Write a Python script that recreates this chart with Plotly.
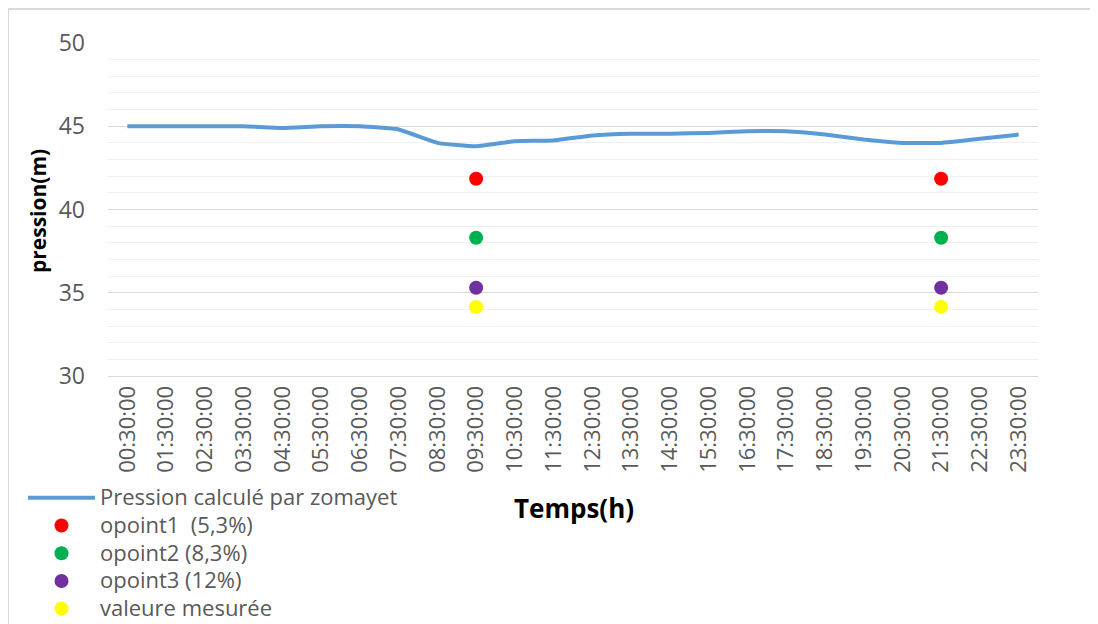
import plotly.graph_objects as go

times = ["00:30:00", "01:30:00", "02:30:00", "03:30:00", "04:30:00", "05:30:00",
         "06:30:00", "07:30:00", "08:30:00", "09:30:00", "10:30:00", "11:30:00",
         "12:30:00", "13:30:00", "14:30:00", "15:30:00", "16:30:00", "17:30:00",
         "18:30:00", "19:30:00", "20:30:00", "21:30:00", "22:30:00", "23:30:00"]
pression_calc = [45.0, 45.0, 45.0, 45.0, 44.9, 45.0, 45.0, 44.8, 44.0, 43.8, 44.1, 44.15,
                 44.45, 44.55, 44.55, 44.6, 44.7, 44.7, 44.5, 44.2, 44.0, 44.0, 44.25, 44.5]
point_times = ["09:30:00", "21:30:00"]
opoint1 = [41.85, 41.85]
opoint2 = [38.3, 38.3]
opoint3 = [35.3, 35.3]
mesure = [34.15, 34.15]

OFF = 8  # page body margin
W, H = 1098 - OFF, 624 - OFF
# plot area in page coordinates
PL, PR, PT, PB = 108, 1038, 43, 376
L, R, T, B = PL - OFF, PR - OFF, PT - OFF, PB - OFF
pw, ph = R - L, B - T

def px(x):  # page x -> paper
    return (x - OFF - L) / pw

def py(y):  # page y -> paper
    return (B - (y - OFF)) / ph

def lg(name):
    return '<span style="font-size:22px">' + name + '</span>'

fig = go.Figure()
fig.add_trace(go.Scatter(x=times, y=pression_calc, mode="lines",
                         name=lg("Pression calculé par zomayet"),
                         line=dict(color="#5B9BD5", width=4, shape="spline", smoothing=0.4)))
for name, vals, col in [("opoint1  (5,3%)", opoint1, "#FF0000"),
                        ("opoint2 (8,3%)", opoint2, "#00B050"),
                        ("opoint3 (12%)", opoint3, "#7030A0"),
                        ("valeure mesurée", mesure, "#FFFF00")]:
    fig.add_trace(go.Scatter(x=point_times, y=vals, mode="markers", name=lg(name),
                             marker=dict(color=col, size=14)))

fig.update_layout(
    width=W, height=H,
    margin=dict(l=L, r=W - R, t=T, b=H - B, autoexpand=False),
    paper_bgcolor="white", plot_bgcolor="white",
    font=dict(family="Open Sans", color="#595959"),
    showlegend=True,
    legend=dict(xref="container", yref="container", x=15 / W, y=1 - 471 / H,
                xanchor="left", yanchor="top", font=dict(size=19, color="#595959"),
                itemwidth=67, tracegroupgap=0, bgcolor="rgba(0,0,0,0)"),
    xaxis=dict(type="category", categoryorder="array", categoryarray=times,
               range=[-0.5, 23.5], tickangle=-90, showgrid=False,
               tickfont=dict(size=22, color="#595959"), showline=True,
               linecolor="#d9d9d9", linewidth=1, zeroline=False),
    yaxis=dict(range=[30, 50], dtick=5, tick0=30, showgrid=True, gridcolor="#d9d9d9",
               gridwidth=1, zeroline=False, showline=False,
               tickfont=dict(size=23, color="#595959"), ticklabelstandoff=22,
               minor=dict(dtick=1, showgrid=True, gridcolor="#efefef", gridwidth=1)),
    annotations=[
        dict(text="<b>Temps(h)</b>", x=px(574), y=py(508), xref="paper", yref="paper",
             showarrow=False, font=dict(size=26, color="black"), xanchor="center", yanchor="middle"),
        dict(text="<b>pression(m)</b>", x=px(38), y=py(211), xref="paper", yref="paper",
             showarrow=False, textangle=-90, font=dict(size=21, color="black"),
             xanchor="center", yanchor="middle"),
    ],
    shapes=[
        dict(type="line", xref="paper", yref="paper", x0=px(8), x1=px(1098), y0=py(9), y1=py(9),
             line=dict(color="#d9d9d9", width=2)),
        dict(type="line", xref="paper", yref="paper", x0=px(8), x1=px(8), y0=py(9), y1=py(624),
             line=dict(color="#d9d9d9", width=2)),
    ],
)

fig.write_html("out.html")
